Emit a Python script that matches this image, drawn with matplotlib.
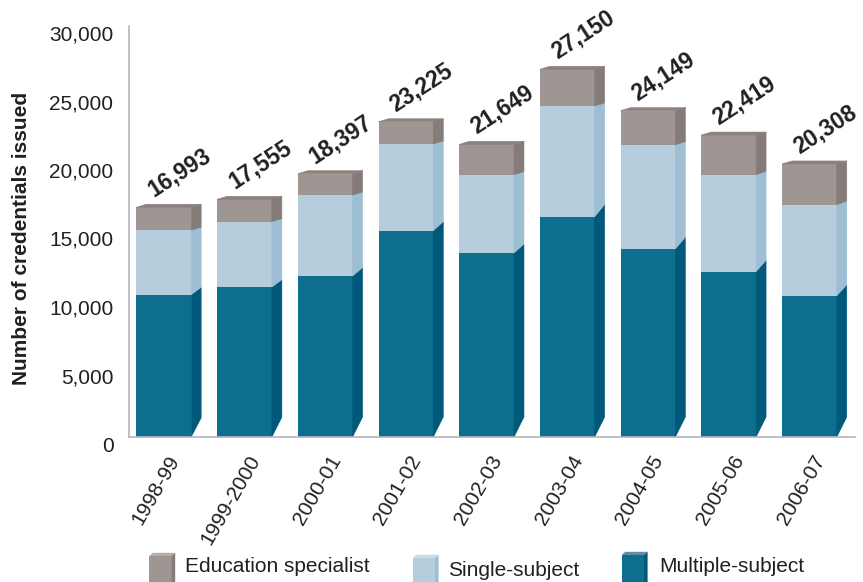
import numpy as np
import matplotlib
matplotlib.use("Agg")
import matplotlib.pyplot as plt
from matplotlib.patches import Polygon
from matplotlib.transforms import ScaledTranslation

# data
years = ["1998-99", "1999-2000", "2000-01", "2001-02", "2002-03",
         "2003-04", "2004-05", "2005-06", "2006-07"]
multiple_subject = [10390, 10950, 11750, 15060, 13430, 16080, 13740, 12070, 10310]
single_subject = [4700, 4770, 5910, 6330, 5720, 8080, 7600, 7080, 6650]
ed_specialist = [1680, 1630, 1560, 1620, 2210, 2680, 2480, 2890, 2970]
totals = [16993, 17555, 18397, 23225, 21649, 27150, 24149, 22419, 20308]

series = [
    ("Multiple-subject", multiple_subject, "#0e6e8e", "#00587a", "#5b8fa8"),
    ("Single-subject", single_subject, "#b5cddd", "#9ebed3", "#cddde8"),
    ("Education specialist", ed_specialist, "#9f9693", "#857b78", "#b5adaa"),
]
spec_top_color = "#8a807c"

plt.rcParams["font.family"] = ["Liberation Sans", "DejaVu Sans"]

W, H = 863, 582
fig = plt.figure(figsize=(W / 100, H / 100), dpi=100)
ax = fig.add_axes([128.7 / W, 1 - 437 / H, (855 - 128.7) / W, (437 - 26) / H])
ax.set_xlim(-0.437, 8.563)
ax.set_ylim(0, 30000)

# pixel <-> data scales
px_x = (855 - 128.7) / (8.563 + 0.437)
px_y = (437 - 26) / 30000.0

x = np.arange(len(years))
width = 55 / px_x
depth_x = 10 / px_x


def side_dy(d_px):
    # how far the back edge of the side face is lifted (pixels)
    return min(max(d_px / 12.0, 3.0), 20.0)


bottoms = np.zeros(len(years))
bar_tops = np.array(multiple_subject) + np.array(single_subject) + np.array(ed_specialist)
for name, vals, front, side, _ in series:
    vals = np.array(vals, dtype=float)
    ax.bar(x, vals, width=width, bottom=bottoms, color=front, edgecolor="none", zorder=2)
    for i in range(len(x)):
        xr = x[i] + width / 2 - 0.3 / px_x
        b, t = bottoms[i], bottoms[i] + vals[i]
        db = side_dy((bar_tops[i] - b) * px_y) / px_y
        dt = side_dy((bar_tops[i] - t) * px_y) / px_y
        poly = Polygon([(xr, b), (xr + depth_x, b + db), (xr + depth_x, t + dt), (xr, t)],
                       closed=True, facecolor=side, edgecolor=side, linewidth=0.4, zorder=2)
        ax.add_patch(poly)
    bottoms = bottoms + vals

# top faces
for i in range(len(x)):
    xl, xr = x[i] - width / 2, x[i] + width / 2
    T = bar_tops[i]
    dt = 3 / px_y
    ax.add_patch(Polygon([(xl, T), (xl + depth_x, T + dt), (xr + depth_x, T + dt), (xr, T)],
                         closed=True, facecolor=spec_top_color, edgecolor=spec_top_color,
                         linewidth=0.4, zorder=2))

# value labels
for i in range(len(x)):
    ax.text(x[i] - width / 2 + 17 / px_x, bar_tops[i] + 10 / px_y, f"{totals[i]:,}",
            rotation=33, rotation_mode="anchor", ha="left", va="baseline",
            fontsize=16.5, fontweight="bold", color="#231f20", zorder=3)

# axes styling
for s in ["top", "right"]:
    ax.spines[s].set_visible(False)
for s in ["left", "bottom"]:
    ax.spines[s].set_color("#b4b4be")
    ax.spines[s].set_linewidth(1.2)
ax.set_yticks(np.arange(0, 30001, 5000))
ax.set_yticklabels([f"{v:,}" for v in range(0, 30001, 5000)])
ax.tick_params(axis="both", length=0, labelsize=15, colors="#231f20")
ax.tick_params(axis="y", pad=11)
for lab in ax.get_yticklabels():
    lab.set_transform(lab.get_transform() + ScaledTranslation(0, -7 / 100, fig.dpi_scale_trans))

ax.set_xticks(x)
ax.set_xticklabels(years, rotation=60, ha="right", va="center", rotation_mode="anchor")
ax.tick_params(axis="x", pad=0)
for lab in ax.get_xticklabels():
    lab.set_transform(lab.get_transform() + ScaledTranslation(11 / 100, -20 / 100, fig.dpi_scale_trans))

fig.text(22 / W, 1 - 238.5 / H, "Number of credentials issued", rotation=90,
         ha="center", va="center", fontsize=15, fontweight="bold", color="#231f20")

# legend with little boxes
def fpt(px, py):
    return (px / W, 1 - py / H)


legend_items = [
    ("Education specialist", series[2], 149.3, 556, 185, 572.3),
    ("Single-subject", series[1], 412.7, 558, 448.3, 576),
    ("Multiple-subject", series[0], 621.7, 555, 659.3, 571.7),
]
for label, (_, _, front, side, top), x0, y0, tx, ty in legend_items:
    w_icon, d, lift, y1 = 22.3, 3.6, 3.2, 584
    fig.patches.append(Polygon([fpt(x0, y0), fpt(x0 + w_icon, y0), fpt(x0 + w_icon, y1), fpt(x0, y1)],
                               closed=True, facecolor=front, edgecolor="none", transform=fig.transFigure))
    fig.patches.append(Polygon([fpt(x0, y0), fpt(x0 + d, y0 - lift), fpt(x0 + w_icon + d, y0 - lift),
                                fpt(x0 + w_icon, y0)],
                               closed=True, facecolor=top, edgecolor="none", transform=fig.transFigure))
    fig.patches.append(Polygon([fpt(x0 + w_icon, y0), fpt(x0 + w_icon + d, y0 - lift),
                                fpt(x0 + w_icon + d, y1), fpt(x0 + w_icon, y1)],
                               closed=True, facecolor=side, edgecolor="none", transform=fig.transFigure))
    fig.text(tx / W, 1 - ty / H, label, ha="left", va="baseline", fontsize=15, color="#231f20")

fig.savefig("out.png", dpi=100)
plt.close(fig)
